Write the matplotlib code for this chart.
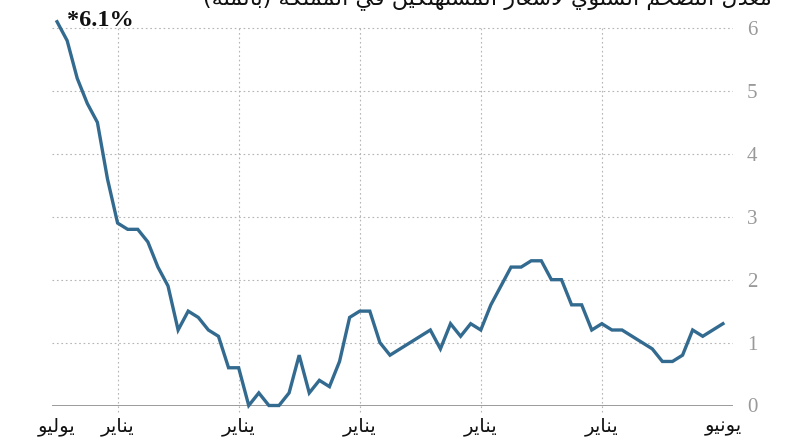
import numpy as np
import matplotlib
matplotlib.use("Agg")
import matplotlib.pyplot as plt

# annual inflation, monthly, July ... June
values = [6.1, 5.8, 5.2, 4.8, 4.5, 3.6, 2.9, 2.8, 2.8, 2.6,
          2.2, 1.9, 1.2, 1.5, 1.4, 1.2, 1.1, 0.6, 0.6, 0.0,
          0.2, 0.0, 0.0, 0.2, 0.8, 0.2, 0.4, 0.3, 0.7, 1.4,
          1.5, 1.5, 1.0, 0.8, 0.9, 1.0, 1.1, 1.2, 0.9, 1.3,
          1.1, 1.3, 1.2, 1.6, 1.9, 2.2, 2.2, 2.3, 2.3, 2.0,
          2.0, 1.6, 1.6, 1.2, 1.3, 1.2, 1.2, 1.1, 1.0, 0.9,
          0.7, 0.7, 0.8, 1.2, 1.1, 1.2, 1.3]
tick_pos = [0, 6, 18, 30, 42, 54, 66]
tick_labels = ["يوليو", "يناير", "يناير", "يناير", "يناير", "يناير", "يونيو"]
y_ticks = [0, 1, 2, 3, 4, 5, 6]
title = "معدل التضخم السنوي لأسعار المستهلكين في المملكة (بالمئة)"
peak_label = "*6.1%"

# minimal arabic shaping (matplotlib has no shaping / bidi)
FORMS = {
    'ا': (0xFE8D, 0xFE8E, None, None), 'أ': (0xFE83, 0xFE84, None, None),
    'ب': (0xFE8F, 0xFE90, 0xFE91, 0xFE92), 'ة': (0xFE93, 0xFE94, None, None),
    'ت': (0xFE95, 0xFE96, 0xFE97, 0xFE98), 'خ': (0xFEA5, 0xFEA6, 0xFEA7, 0xFEA8),
    'د': (0xFEA9, 0xFEAA, None, None), 'ف': (0xFED1, 0xFED2, 0xFED3, 0xFED4),
    'ر': (0xFEAD, 0xFEAE, None, None), 'س': (0xFEB1, 0xFEB2, 0xFEB3, 0xFEB4),
    'ض': (0xFEBD, 0xFEBE, 0xFEBF, 0xFEC0), 'ع': (0xFEC9, 0xFECA, 0xFECB, 0xFECC),
    'ك': (0xFED9, 0xFEDA, 0xFEDB, 0xFEDC), 'ل': (0xFEDD, 0xFEDE, 0xFEDF, 0xFEE0),
    'م': (0xFEE1, 0xFEE2, 0xFEE3, 0xFEE4), 'ن': (0xFEE5, 0xFEE6, 0xFEE7, 0xFEE8),
    'ه': (0xFEE9, 0xFEEA, 0xFEEB, 0xFEEC), 'و': (0xFEED, 0xFEEE, None, None),
    'ي': (0xFEF1, 0xFEF2, 0xFEF3, 0xFEF4), 'ئ': (0xFE89, 0xFE8A, 0xFE8B, 0xFE8C),
}
LAM_ALEF = {'ا': (0xFEFB, 0xFEFC), 'أ': (0xFEF7, 0xFEF8)}


def shape(text):
    out = []
    i = 0
    while i < len(text):
        c = text[i]
        prev = text[i - 1] if i > 0 else ''
        nxt = text[i + 1] if i + 1 < len(text) else ''
        if c not in FORMS:
            out.append(c)
            i += 1
            continue
        jp = prev in FORMS and FORMS[prev][2] is not None
        if c == 'ل' and nxt in LAM_ALEF:
            out.append(chr(LAM_ALEF[nxt][1] if jp else LAM_ALEF[nxt][0]))
            i += 2
            continue
        iso, fin, ini, med = FORMS[c]
        jn = ini is not None and nxt in FORMS
        if jp and jn:
            g = med
        elif jp:
            g = fin
        elif jn:
            g = ini
        else:
            g = iso
        out.append(chr(g))
        i += 1
    s = ''.join(reversed(out))
    return s.translate(str.maketrans('()', ')('))


x = np.arange(len(values))
line_color = "#336a8f"
grid_color = "#b5b5b5"

fig = plt.figure(figsize=(7.92, 4.46), dpi=100)
ax = fig.add_axes([52 / 792, 1 - 405.5 / 446, (733 - 52) / 792, (405.5 - 21.7) / 446])

for v in y_ticks[1:]:
    ax.axhline(v, color=grid_color, lw=0.8, ls=(0, (1.5, 2.5)), zorder=1)
for p in tick_pos[1:-1]:
    ax.plot([p, p], [-0.1, 6], color=grid_color, lw=0.8, ls=(0, (1.5, 2.5)),
            zorder=1, clip_on=False)
ax.axhline(0, color="#8a8a8a", lw=1.2, zorder=2)

ax.plot(x, values, color=line_color, lw=2.4, solid_joinstyle="miter",
        zorder=3, clip_on=False)

ax.set_xlim(-0.5, 67)
ax.set_ylim(0, 6.1)
for s in ax.spines.values():
    s.set_visible(False)

ax.set_xticks(tick_pos)
ax.set_xticklabels([shape(t) for t in tick_labels], family="DejaVu Sans",
                   fontsize=14, color="#111111")
ax.tick_params(axis="x", length=0, pad=8)

ax.yaxis.tick_right()
ax.set_yticks(y_ticks)
ax.set_yticklabels([str(v) for v in y_ticks], family="Liberation Serif",
                   fontsize=15, color="#999999")
ax.tick_params(axis="y", length=0, pad=10)

ax.annotate(peak_label, xy=(0, values[0]), xytext=(7, -6.5), textcoords="offset points",
            family="Liberation Serif", fontweight="bold", fontsize=17.5,
            va="bottom", ha="left", color="#111111", annotation_clip=False)

fig.text(772 / 792, 1 - 4 / 446, shape(title), ha="right", va="baseline",
         family="DejaVu Sans", fontsize=16, color="#111111")

fig.savefig("out.png", dpi=100)
